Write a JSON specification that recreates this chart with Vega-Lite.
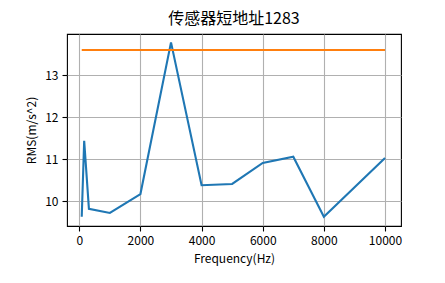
{
  "$schema": "https://vega.github.io/schema/vega-lite/v6.json",
  "width": 334,
  "height": 192,
  "autosize": {"type": "none"},
  "padding": {"left": 67, "top": 34, "right": 44, "bottom": 57},
  "background": "white",
  "title": {
    "text": "传感器短地址1283",
    "font": "Noto Sans CJK SC",
    "fontSize": 16,
    "fontWeight": "normal",
    "color": "black",
    "anchor": "middle",
    "offset": 7
  },
  "config": {
    "view": {"stroke": "black", "strokeWidth": 1.1},
    "axis": {
      "domain": false,
      "grid": true,
      "gridColor": "#b0b0b0",
      "gridWidth": 1.1,
      "gridOpacity": 1,
      "tickColor": "black",
      "tickSize": 5,
      "tickWidth": 1.1,
      "labelFont": "Noto Sans CJK SC",
      "labelFontSize": 12,
      "labelColor": "black",
      "labelPadding": 4,
      "titleFont": "Noto Sans CJK SC",
      "titleFontSize": 12,
      "titleFontWeight": "normal",
      "titleColor": "black"
    }
  },
  "data": {
    "values": [
      {"series": "RMS", "freq": 80, "value": 9.63},
      {"series": "RMS", "freq": 160, "value": 11.44},
      {"series": "RMS", "freq": 315, "value": 9.82},
      {"series": "RMS", "freq": 1000, "value": 9.72},
      {"series": "RMS", "freq": 2000, "value": 10.17},
      {"series": "RMS", "freq": 3000, "value": 13.78},
      {"series": "RMS", "freq": 4000, "value": 10.38},
      {"series": "RMS", "freq": 5000, "value": 10.41},
      {"series": "RMS", "freq": 6000, "value": 10.91},
      {"series": "RMS", "freq": 7000, "value": 11.06},
      {"series": "RMS", "freq": 8000, "value": 9.63},
      {"series": "RMS", "freq": 10000, "value": 11.03},
      {"series": "Limit", "freq": 80, "value": 13.6},
      {"series": "Limit", "freq": 10000, "value": 13.6}
    ]
  },
  "mark": {"type": "line", "strokeWidth": 2.1, "clip": true},
  "encoding": {
    "x": {
      "field": "freq",
      "type": "quantitative",
      "title": "Frequency(Hz)",
      "scale": {"domain": [-402, 10523], "nice": false, "zero": false},
      "axis": {"values": [0, 2000, 4000, 6000, 8000, 10000], "format": "d", "titlePadding": 7}
    },
    "y": {
      "field": "value",
      "type": "quantitative",
      "title": "RMS(m/s^2)",
      "scale": {"domain": [9.41, 13.98], "nice": false, "zero": false},
      "axis": {"values": [10, 11, 12, 13], "titlePadding": 6}
    },
    "color": {
      "field": "series",
      "type": "nominal",
      "scale": {"domain": ["RMS", "Limit"], "range": ["#1f77b4", "#ff7f0e"]},
      "legend": null
    }
  }
}
